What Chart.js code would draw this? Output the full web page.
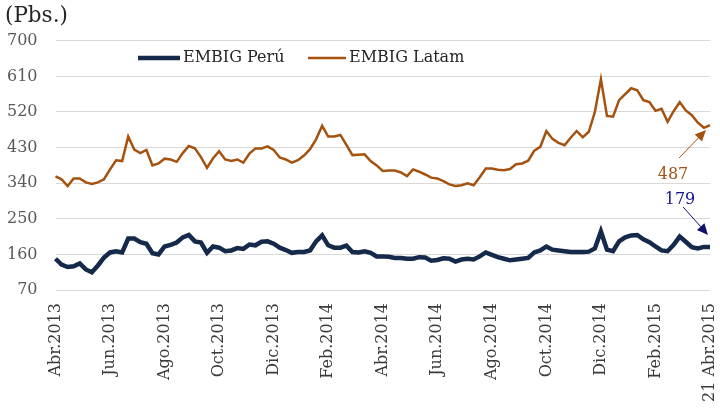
<!DOCTYPE html>
<html>
<head>
<meta charset="utf-8">
<script src="https://cdn.jsdelivr.net/npm/chart.js@4"></script>
<style>
  body { margin: 0; background: #fff; }
</style>
</head>
<body>
<canvas id="grafico" width="720" height="410"></canvas>
<script>
'use strict';

// etiquetas del eje x, una cada 9 observaciones
var etiquetasX = ['Abr.2013', 'Jun.2013', 'Ago.2013', 'Oct.2013', 'Dic.2013', 'Feb.2014',
  'Abr.2014', 'Jun.2014', 'Ago.2014', 'Oct.2014', 'Dic.2014', 'Feb.2015', '21 Abr.2015'];
var pasoEtiqueta = 9;

var ticksY = [70, 160, 250, 340, 430, 520, 610, 700];

// spreads semanales (pbs.)
var embigPeru = [
  149, 134, 128, 130, 137, 122, 115, 132, 152, 165,
  168, 165, 200, 200, 191, 187, 163, 160, 180, 184,
  190, 203, 209, 193, 190, 164, 180, 177, 168, 170,
  176, 174, 185, 183, 192, 193, 187, 177, 171, 164,
  166, 166, 170, 193, 208, 183, 177, 177, 182, 166,
  165, 168, 164, 155, 155, 154, 151, 151, 149, 149,
  153, 152, 144, 146, 150, 149, 142, 147, 149, 147,
  155, 165, 159, 153, 149, 145, 147, 149, 151, 165,
  170, 180, 172, 170, 168, 166, 166, 166, 167, 175,
  218, 172, 168, 193, 203, 208, 209, 198, 191, 180,
  170, 168, 184, 205, 192, 178, 175, 179, 179
];

var embigLatam = [
  357, 350, 333, 352, 352, 342, 338, 342, 350, 375,
  398, 396, 458, 425, 416, 424, 385, 390, 402, 400,
  394, 416, 434, 428, 406, 379, 403, 421, 400, 396,
  400, 392, 415, 428, 428, 433, 424, 405, 400, 392,
  398, 410, 426, 451, 485, 458, 458, 462, 437, 411,
  412, 413, 396, 385, 371, 372, 372, 367, 358, 375,
  369, 362, 354, 352, 345, 337, 333, 335, 340, 335,
  355, 377, 377, 374, 373, 376, 388, 390, 397, 422,
  432, 472, 452, 442, 436, 455, 472, 456, 470, 520,
  603, 510, 508, 550, 565, 580, 575, 550, 545, 523,
  528, 495, 522, 545, 524, 512, 493, 480, 487
];

var colorPeru = '#15294a';
var colorLatam = '#a5520f';
var fuente = 'DejaVu Serif';

var categorias = embigPeru.map(function (v, i) {
  return i % pasoEtiqueta === 0 ? etiquetasX[i / pasoEtiqueta] : '';
});

function flecha(ctx, x0, y0, x1, y1, color) {
  var ang = Math.atan2(y1 - y0, x1 - x0);
  var largo = 11, ancho = 5;
  ctx.save();
  ctx.strokeStyle = color;
  ctx.fillStyle = color;
  ctx.lineWidth = 1;
  ctx.beginPath();
  ctx.moveTo(x0, y0);
  ctx.lineTo(x1 - Math.cos(ang) * largo, y1 - Math.sin(ang) * largo);
  ctx.stroke();
  ctx.beginPath();
  ctx.moveTo(x1, y1);
  ctx.lineTo(x1 - Math.cos(ang) * largo - Math.sin(ang) * ancho, y1 - Math.sin(ang) * largo + Math.cos(ang) * ancho);
  ctx.lineTo(x1 - Math.cos(ang) * largo + Math.sin(ang) * ancho, y1 - Math.sin(ang) * largo - Math.cos(ang) * ancho);
  ctx.closePath();
  ctx.fill();
  ctx.restore();
}

// leyenda dentro del area del grafico, arriba a la izquierda
var leyenda = {
  id: 'leyenda',
  beforeDatasetsDraw: function (chart) {
    var ctx = chart.ctx;
    var items = [{ x: 138, largo: 42 }, { x: 308, largo: 38 }];
    var y = 58;
    ctx.save();
    ctx.font = '16px "' + fuente + '"';
    ctx.textBaseline = 'middle';
    ctx.textAlign = 'left';
    chart.data.datasets.forEach(function (ds, i) {
      ctx.strokeStyle = ds.borderColor;
      ctx.lineWidth = ds.borderWidth;
      ctx.beginPath();
      ctx.moveTo(items[i].x, y);
      ctx.lineTo(items[i].x + items[i].largo, y);
      ctx.stroke();
      ctx.fillStyle = '#262626';
      ctx.fillText(ds.label, items[i].x + items[i].largo + 3, y);
    });
    ctx.restore();
  }
};

// ultimo dato de cada serie con flecha
var ultimoDato = {
  id: 'ultimoDato',
  afterDatasetsDraw: function (chart) {
    var ctx = chart.ctx;
    var pLatam = chart.getDatasetMeta(1).data[embigLatam.length - 1];
    var pPeru = chart.getDatasetMeta(0).data[embigPeru.length - 1];

    ctx.save();
    ctx.font = '16px "' + fuente + '"';
    ctx.textAlign = 'center';
    ctx.textBaseline = 'middle';

    flecha(ctx, pLatam.x - 31, pLatam.y + 33, pLatam.x - 4, pLatam.y + 5, colorLatam);
    ctx.fillStyle = '#a0541a';
    ctx.fillText(embigLatam[embigLatam.length - 1], pLatam.x - 37, pLatam.y + 50);

    flecha(ctx, pPeru.x - 27, pPeru.y - 40, pPeru.x - 2, pPeru.y - 12, '#10106e');
    ctx.fillStyle = '#14148a';
    ctx.fillText(embigPeru[embigPeru.length - 1], pPeru.x - 30, pPeru.y - 47);
    ctx.restore();
  }
};

new Chart(document.getElementById('grafico').getContext('2d'), {
  type: 'line',
  data: {
    labels: categorias,
    datasets: [{
      label: 'EMBIG Perú',
      data: embigPeru,
      borderColor: colorPeru,
      backgroundColor: colorPeru,
      borderWidth: 4.5,
      pointRadius: 0,
      tension: 0
    }, {
      label: 'EMBIG Latam',
      data: embigLatam,
      borderColor: colorLatam,
      backgroundColor: colorLatam,
      borderWidth: 2.5,
      pointRadius: 0,
      tension: 0
    }]
  },
  options: {
    responsive: false,
    animation: false,
    devicePixelRatio: 1,
    layout: {
      padding: { left: 5, right: 10, top: 0, bottom: 7 }
    },
    plugins: {
      title: {
        display: true,
        text: '(Pbs.)',
        align: 'start',
        color: '#262626',
        font: { family: fuente, size: 21.5, weight: 'normal' },
        padding: { top: 4, bottom: 11 }
      },
      legend: { display: false },
      tooltip: { enabled: false }
    },
    scales: {
      x: {
        grid: { display: false, drawTicks: false },
        border: { display: false },
        afterFit: function (eje) {
          eje.height = 113;
          eje.paddingLeft = 0;
          eje.paddingRight = 0;
        },
        ticks: {
          autoSkip: false,
          minRotation: 90,
          maxRotation: 90,
          padding: 13,
          color: '#3a3a3a',
          font: { family: fuente, size: 16 }
        }
      },
      y: {
        min: 70,
        max: 700,
        afterBuildTicks: function (eje) {
          eje.ticks = ticksY.map(function (v) { return { value: v }; });
        },
        afterFit: function (eje) {
          eje.width = 50.5;
        },
        grid: { color: '#d9d9d9', lineWidth: 1, drawTicks: false },
        border: { display: false },
        ticks: {
          padding: 18,
          color: '#595959',
          font: { family: fuente, size: 16 }
        }
      }
    }
  },
  plugins: [leyenda, ultimoDato]
});
</script>
</body>
</html>
